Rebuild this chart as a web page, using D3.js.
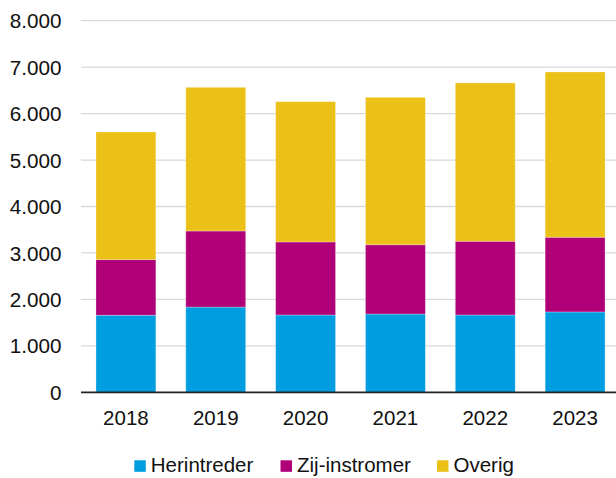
<!DOCTYPE html>
<html><head><meta charset="utf-8">
<script src="https://cdn.jsdelivr.net/npm/d3@7"></script>
<style>body{margin:0;background:#fff}svg{display:block}text{font-family:"Liberation Sans",Arial,sans-serif;fill:#111}</style>
</head><body><svg id="c" width="616" height="478"></svg>
<script>
const years = ["2018","2019","2020","2021","2022","2023"];
const herintreder = [1660, 1835, 1665, 1685, 1665, 1730];
const zijInstromer = [1195, 1638, 1572, 1492, 1587, 1608];
const overig = [2749, 3093, 3020, 3173, 3408, 3559];
const seriesNames = ["Herintreder", "Zij-instromer", "Overig"];
const colors = ["#009ee0", "#af0078", "#ebc017"];
const yTicks = [0,1000,2000,3000,4000,5000,6000,7000,8000];

const svg = d3.select("#c");
const rows = years.map((y,i)=>({year:y, Herintreder:herintreder[i], "Zij-instromer":zijInstromer[i], Overig:overig[i]}));
const stack = d3.stack().keys(seriesNames)(rows);

const x = d3.scaleBand().domain(years).range([81, 620]).paddingInner(1/3).paddingOuter(1/6);
const y = d3.scaleLinear().domain([0, 8000]).range([392.3, 20.7]);
const fmt = v => d3.format(",")(v).replace(/,/g, ".");

// grid
svg.append("g").selectAll("line").data(yTicks.filter(d=>d>0)).join("line")
  .attr("x1", 81).attr("x2", 616).attr("y1", d=>y(d)).attr("y2", d=>y(d))
  .attr("stroke", "#d9d9d9").attr("stroke-width", 1.3);

// y labels
svg.append("g").selectAll("text").data(yTicks).join("text")
  .attr("x", 61.5).attr("y", d=>y(d)+7.6).attr("text-anchor","end")
  .attr("font-size", 20.7).text(fmt);

// bars
svg.append("g").selectAll("g").data(stack).join("g")
  .attr("fill", (d,i)=>colors[i])
  .selectAll("rect").data(d=>d).join("rect")
  .attr("x", d=>x(d.data.year)).attr("width", x.bandwidth())
  .attr("y", d=>y(d[1])).attr("height", d=>y(d[0])-y(d[1]))
  .attr("stroke", "rgba(255,255,255,0.35)").attr("stroke-width", 0.8);

// baseline
svg.append("line").attr("x1",81).attr("x2",616).attr("y1",y(0)).attr("y2",y(0))
  .attr("stroke","#222").attr("stroke-width",1.7);

// x labels
svg.append("g").selectAll("text").data(years).join("text")
  .attr("x", d=>x(d)+x.bandwidth()/2).attr("y", 425).attr("text-anchor","middle")
  .attr("font-size", 20.5).text(d=>d);

// legend
const legX = [134.3, 280.5, 437];
const leg = svg.append("g");
seriesNames.forEach((n,i)=>{
  leg.append("rect").attr("x", legX[i]).attr("y", 460.3).attr("width", 11.5).attr("height", 11.5).attr("fill", colors[i]);
  leg.append("text").attr("x", legX[i]+16.5).attr("y", 471.7).attr("font-size", 20.5).text(n);
});
</script></body></html>
